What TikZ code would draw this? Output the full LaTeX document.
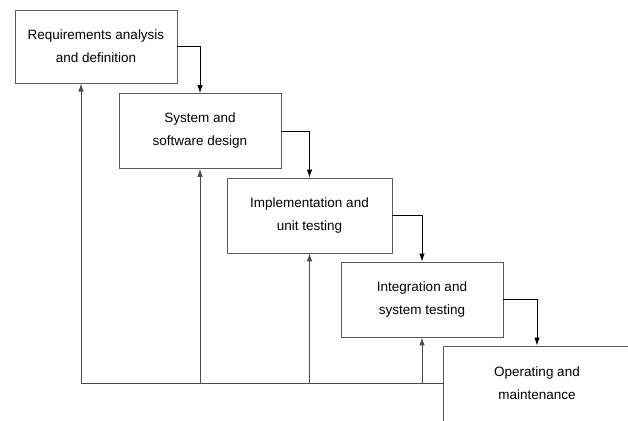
\documentclass[tikz,border=0pt]{standalone}
\usepackage{fontspec}
\setmainfont{Liberation Sans}
\usetikzlibrary{arrows.meta}
\begin{document}
\begin{tikzpicture}[x=1pt,y=-1pt,
  phase/.style={draw=black!65, line width=0.8pt, fill=white, inner sep=0pt,
    minimum width=162pt, minimum height=75pt, align=center,
    font=\fontsize{13.5}{23}\selectfont},
  flow/.style={draw=black, line width=0.9pt, -{Latex[length=8pt,width=5.5pt]}},
  back/.style={draw=black!70, line width=0.9pt, -{Latex[length=8pt,width=5.5pt]}}]
\useasboundingbox (0,0) rectangle (628,420);
\node[phase, minimum height=73pt] (b1) at (96,46.5) {Requirements analysis\\and definition};
\node[phase] (b2) at (200,131) {System and\\software design};
\node[phase, minimum width=165pt] (b3) at (309.5,215.5) {Implementation and\\unit testing};
\node[phase] (b4) at (422,299.5) {Integration and\\system testing};
\node[phase, minimum width=188pt] (b5) at (537,383.5) {Operating and\\maintenance};
\coordinate (f1) at (81,83.5);
% forward flow
\draw[flow] (b1.east) -| (b2.north);
\draw[flow] (b2.east) -| (b3.north);
\draw[flow] (b3.east) -| (b4.north);
\draw[flow] (b4.east) -| (b5.north);
% feedback
\draw[back] (b5.west) -| (f1);
\draw[back] (b2.south |- b5.west) -- (b2.south);
\draw[back] (b3.south |- b5.west) -- (b3.south);
\draw[back] (b4.south |- b5.west) -- (b4.south);
\end{tikzpicture}
\end{document}
